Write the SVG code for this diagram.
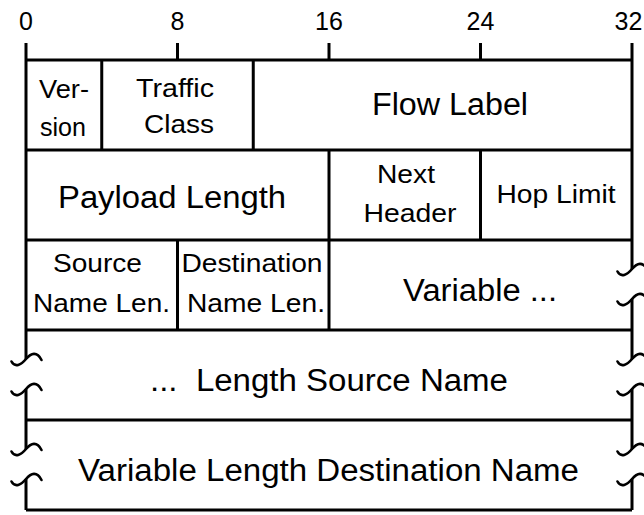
<svg xmlns="http://www.w3.org/2000/svg" xmlns:xlink="http://www.w3.org/1999/xlink" width="644" height="515" viewBox="0 0 644 515">
<style>
  .ln { fill: none; stroke: #000; stroke-width: 3; stroke-linejoin: miter; }
  .sq { fill: none; stroke: #000; stroke-width: 2.6; stroke-linecap: round; }
  text { font-family: "Liberation Sans", Arial, Helvetica, sans-serif; fill: #000; text-anchor: middle; }
  .num { font-size: 25px; }
  .sm { font-size: 26px; }
  .lg { font-size: 31px; }
</style>
<defs>
  <path id="wave" class="sq" d="M -14.5,2.5 C -11,9 -5,6 0,0 C 5,-6 11,-8 15.5,1"/>
</defs>
<rect x="0" y="0" width="644" height="515" fill="#fff"/>

<g id="scale">
  <text class="num" x="26" y="30">0</text>
  <text class="num" x="177.5" y="30">8</text>
  <text class="num" x="329" y="30">16</text>
  <text class="num" x="480.5" y="30">24</text>
  <text class="num" x="628.5" y="30">32</text>
</g>

<g id="connectors">
  <!-- ticks -->
  <path class="ln" d="M177.5,43 V60 M329,43 V60 M480.5,43 V60"/>
  <!-- horizontal row lines -->
  <path class="ln" d="M26,60 H632 M26,150 H632 M26,240 H632 M26,330 H632 M26,420 H632 M26,510 H632"/>
  <!-- left border -->
  <path class="ln" d="M26,43 V359 M26,389 V449 M26,479 V510"/>
  <!-- right border -->
  <path class="ln" d="M632,43 V269 M632,299 V359 M632,389 V449 M632,479 V510"/>
  <!-- internal dividers -->
  <path class="ln" d="M101.75,60 V150 M253.25,60 V150 M329,150 V330 M480.5,150 V240 M177.5,240 V330"/>
  <!-- break marks -->
  <use xlink:href="#wave" x="632" y="269"/>
  <use xlink:href="#wave" x="632" y="299"/>
  <use xlink:href="#wave" x="632" y="359"/>
  <use xlink:href="#wave" x="632" y="389"/>
  <use xlink:href="#wave" x="632" y="449"/>
  <use xlink:href="#wave" x="632" y="479"/>
  <use xlink:href="#wave" x="26" y="359"/>
  <use xlink:href="#wave" x="26" y="389"/>
  <use xlink:href="#wave" x="26" y="449"/>
  <use xlink:href="#wave" x="26" y="479"/>
</g>

<g id="version">
  <text class="sm" x="64" y="98" textLength="50" lengthAdjust="spacingAndGlyphs">Ver-</text>
  <text class="sm" x="63" y="136" textLength="46" lengthAdjust="spacingAndGlyphs">sion</text>
</g>
<g id="traffic-class">
  <text class="sm" x="175" y="97" textLength="78" lengthAdjust="spacingAndGlyphs">Traffic</text>
  <text class="sm" x="179" y="133" textLength="70" lengthAdjust="spacingAndGlyphs">Class</text>
</g>
<g id="flow-label">
  <text class="lg" x="450" y="115" textLength="156" lengthAdjust="spacingAndGlyphs">Flow Label</text>
</g>
<g id="payload-length">
  <text class="lg" x="172" y="208" textLength="228" lengthAdjust="spacingAndGlyphs">Payload Length</text>
</g>
<g id="next-header">
  <text class="sm" x="406" y="183" textLength="58" lengthAdjust="spacingAndGlyphs">Next</text>
  <text class="sm" x="410" y="222" textLength="93" lengthAdjust="spacingAndGlyphs">Header</text>
</g>
<g id="hop-limit">
  <text class="sm" x="556" y="203" textLength="119" lengthAdjust="spacingAndGlyphs">Hop Limit</text>
</g>
<g id="source-name-len">
  <text class="sm" x="97.5" y="272" textLength="89" lengthAdjust="spacingAndGlyphs">Source</text>
  <text class="sm" x="101.5" y="312" textLength="137" lengthAdjust="spacingAndGlyphs">Name Len.</text>
</g>
<g id="destination-name-len">
  <text class="sm" x="252" y="272" textLength="141" lengthAdjust="spacingAndGlyphs">Destination</text>
  <text class="sm" x="256" y="312" textLength="138" lengthAdjust="spacingAndGlyphs">Name Len.</text>
</g>
<g id="variable">
  <text class="lg" x="480" y="301" textLength="154" lengthAdjust="spacingAndGlyphs">Variable ...</text>
</g>
<g id="source-name">
  <text class="lg" x="329" y="391" textLength="358" lengthAdjust="spacingAndGlyphs" xml:space="preserve">...  Length Source Name</text>
</g>
<g id="destination-name">
  <text class="lg" x="328.5" y="481" textLength="501" lengthAdjust="spacingAndGlyphs">Variable Length Destination Name</text>
</g>
</svg>
